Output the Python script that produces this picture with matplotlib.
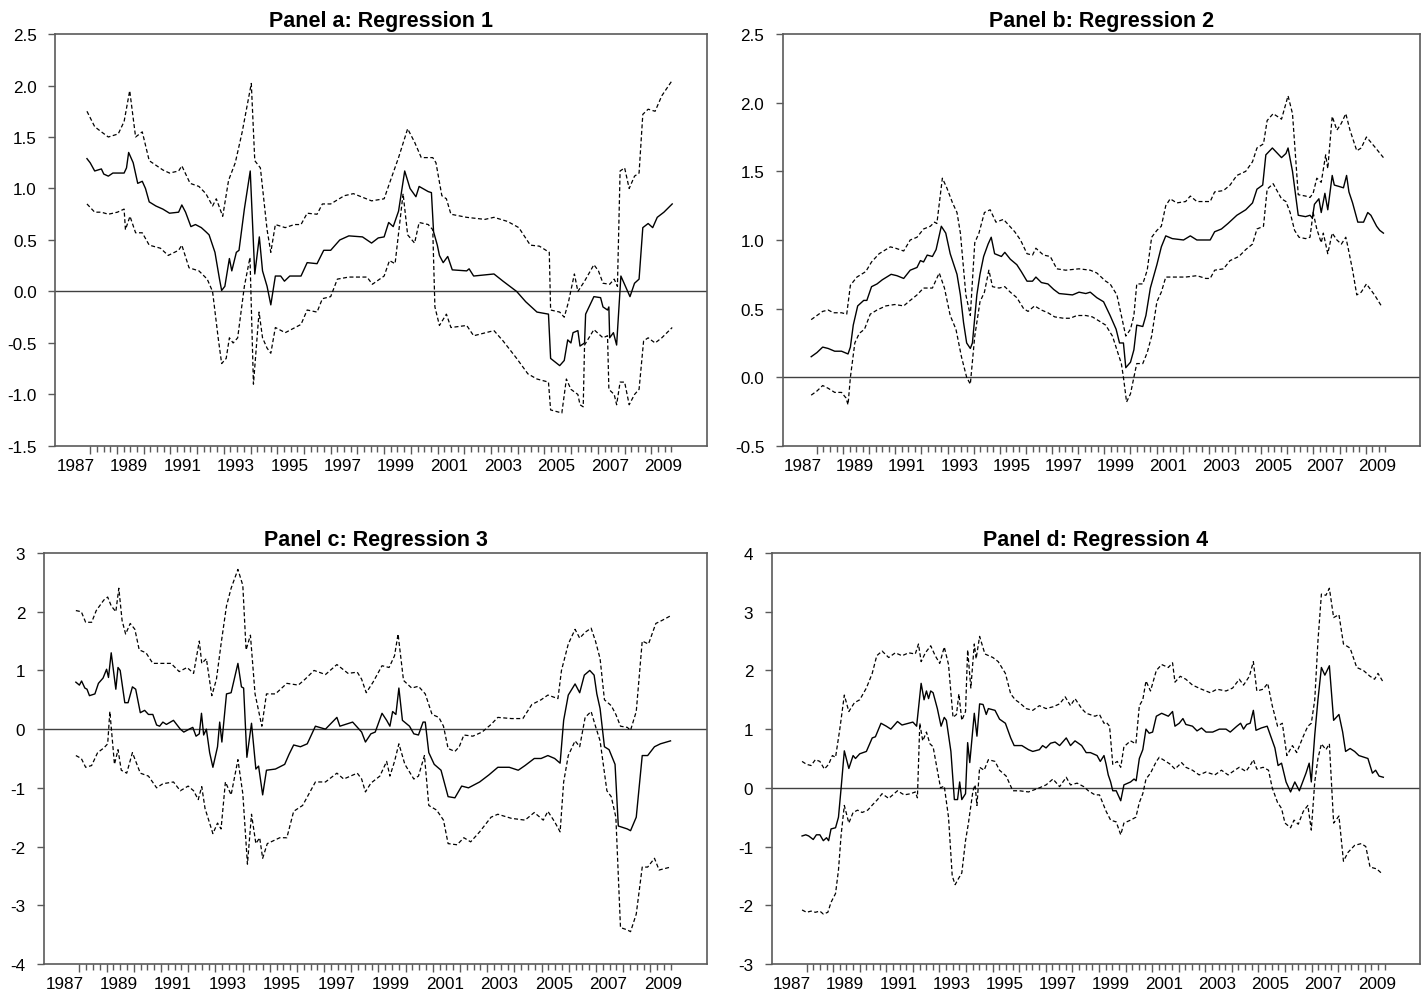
import numpy as np
import matplotlib
matplotlib.use("Agg")
import matplotlib.pyplot as plt

plt.rcParams['font.family'] = ['Liberation Sans Narrow', 'Liberation Sans', 'DejaVu Sans']

# ---- panel a: regression 1 ----
a_mid_t = [1987.88, 1988.00, 1988.17, 1988.42, 1988.51, 1988.68, 1988.85, 1989.05, 1989.27, 1989.36,
           1989.44, 1989.61, 1989.78, 1989.95, 1990.07, 1990.21, 1990.46, 1990.72, 1990.97, 1991.31,
           1991.43, 1991.57, 1991.77, 1991.94, 1992.16, 1992.33, 1992.45, 1992.67, 1992.84, 1992.92,
           1993.04, 1993.21, 1993.30, 1993.47, 1993.57, 1993.77, 1993.99, 1994.16, 1994.33, 1994.45,
           1994.62, 1994.76, 1994.93, 1995.13, 1995.27, 1995.47, 1995.89, 1996.12, 1996.49, 1996.74,
           1997.00, 1997.34, 1997.68, 1998.19, 1998.53, 1998.78, 1999.00, 1999.17, 1999.34, 1999.54,
           1999.77, 1999.97, 2000.19, 2000.31, 2000.65, 2000.77, 2000.85, 2000.99, 2001.07, 2001.21,
           2001.38, 2001.55, 2002.09, 2002.18, 2002.35, 2003.11, 2003.45, 2003.96, 2004.30, 2004.72,
           2005.15, 2005.23, 2005.57, 2005.74, 2005.87, 2005.99, 2006.07, 2006.25, 2006.33, 2006.50,
           2006.54, 2006.85, 2007.10, 2007.19, 2007.36, 2007.41, 2007.44, 2007.58, 2007.70, 2007.86,
           2008.03, 2008.20, 2008.37, 2008.54, 2008.68, 2008.88, 2009.05, 2009.22, 2009.47, 2009.78]
a_mid_v = [1.29, 1.25, 1.17, 1.19, 1.14, 1.12, 1.15, 1.15, 1.15, 1.20,
           1.35, 1.25, 1.05, 1.07, 1.00, 0.87, 0.83, 0.80, 0.76, 0.77,
           0.84, 0.77, 0.63, 0.65, 0.62, 0.58, 0.55, 0.38, 0.12, 0.01,
           0.05, 0.32, 0.20, 0.38, 0.40, 0.80, 1.17, 0.17, 0.53, 0.20,
           0.05, -0.13, 0.15, 0.15, 0.10, 0.15, 0.15, 0.28, 0.27, 0.40,
           0.40, 0.50, 0.54, 0.53, 0.47, 0.52, 0.53, 0.67, 0.63, 0.78,
           1.17, 1.00, 0.92, 1.02, 0.97, 0.96, 0.58, 0.45, 0.35, 0.28,
           0.34, 0.21, 0.20, 0.22, 0.15, 0.17, 0.10, 0.00, -0.10, -0.20,
           -0.22, -0.65, -0.72, -0.67, -0.47, -0.50, -0.40, -0.38, -0.53, -0.50,
           -0.22, -0.05, -0.06, -0.15, -0.18, -0.15, -0.45, -0.40, -0.52, 0.15,
           0.05, -0.05, 0.08, 0.12, 0.62, 0.66, 0.62, 0.72, 0.77, 0.85]
a_up_t = [1987.88, 1988.17, 1988.42, 1988.68, 1989.05, 1989.27, 1989.48, 1989.70, 1989.95, 1990.21,
          1990.72, 1990.97, 1991.31, 1991.43, 1991.74, 1992.07, 1992.33, 1992.58, 1992.72, 1992.96,
          1993.18, 1993.43, 1993.69, 1994.03, 1994.16, 1994.37, 1994.62, 1994.76, 1994.93, 1995.30,
          1995.64, 1995.89, 1996.12, 1996.49, 1996.69, 1997.00, 1997.51, 1997.85, 1998.53, 1999.00,
          1999.20, 1999.54, 1999.88, 2000.14, 2000.39, 2000.82, 2000.94, 2001.16, 2001.33, 2001.50,
          2002.09, 2002.77, 2003.11, 2003.62, 2004.04, 2004.47, 2004.81, 2005.18, 2005.23, 2005.57,
          2005.74, 2005.90, 2006.12, 2006.25, 2006.50, 2006.85, 2007.02, 2007.19, 2007.44, 2007.61,
          2007.73, 2007.83, 2008.00, 2008.17, 2008.37, 2008.54, 2008.68, 2008.88, 2009.14, 2009.39,
          2009.78]
a_up_v = [1.75, 1.60, 1.55, 1.50, 1.53, 1.65, 1.95, 1.50, 1.55, 1.27,
          1.18, 1.15, 1.17, 1.22, 1.05, 1.02, 0.95, 0.83, 0.90, 0.73,
          1.08, 1.25, 1.55, 2.02, 1.27, 1.20, 0.60, 0.38, 0.65, 0.62,
          0.65, 0.65, 0.76, 0.75, 0.85, 0.85, 0.93, 0.95, 0.88, 0.90,
          1.05, 1.30, 1.58, 1.45, 1.30, 1.30, 1.25, 0.93, 0.90, 0.75,
          0.72, 0.70, 0.72, 0.68, 0.62, 0.45, 0.44, 0.38, -0.18, -0.20,
          -0.25, -0.10, 0.17, 0.00, 0.10, 0.26, 0.20, 0.08, 0.07, 0.12,
          0.05, 1.17, 1.20, 1.00, 1.12, 1.15, 1.72, 1.77, 1.75, 1.90,
          2.05]
a_lo_t = [1987.88, 1988.17, 1988.42, 1988.68, 1989.02, 1989.27, 1989.32, 1989.49, 1989.70, 1989.95,
          1990.21, 1990.63, 1990.92, 1991.31, 1991.43, 1991.70, 1992.07, 1992.38, 1992.58, 1992.79,
          1992.92, 1993.09, 1993.21, 1993.35, 1993.52, 1993.77, 1993.98, 1994.11, 1994.32, 1994.45,
          1994.62, 1994.76, 1994.93, 1995.30, 1995.89, 1996.12, 1996.49, 1996.69, 1997.00, 1997.25,
          1997.68, 1998.36, 1998.56, 1999.00, 1999.20, 1999.41, 1999.71, 1999.88, 2000.14, 2000.31,
          2000.65, 2000.82, 2000.90, 2001.07, 2001.33, 2001.50, 2002.09, 2002.35, 2003.11, 2003.45,
          2003.96, 2004.38, 2004.72, 2005.15, 2005.23, 2005.65, 2005.82, 2005.99, 2006.25, 2006.33,
          2006.45, 2006.50, 2006.85, 2007.19, 2007.36, 2007.41, 2007.61, 2007.70, 2007.83, 2008.00,
          2008.17, 2008.37, 2008.54, 2008.71, 2008.88, 2009.14, 2009.39, 2009.78]
a_lo_v = [0.85, 0.77, 0.77, 0.75, 0.77, 0.80, 0.60, 0.73, 0.57, 0.57,
          0.45, 0.42, 0.35, 0.40, 0.45, 0.23, 0.20, 0.12, 0.00, -0.45,
          -0.70, -0.65, -0.45, -0.50, -0.45, 0.05, 0.33, -0.90, -0.20, -0.45,
          -0.55, -0.60, -0.35, -0.40, -0.32, -0.18, -0.20, -0.07, -0.05, 0.12,
          0.14, 0.14, 0.07, 0.15, 0.30, 0.27, 0.95, 0.55, 0.47, 0.67,
          0.65, 0.60, -0.15, -0.33, -0.22, -0.35, -0.33, -0.43, -0.38, -0.48,
          -0.65, -0.80, -0.85, -0.88, -1.15, -1.18, -0.85, -0.95, -1.00, -1.10,
          -1.12, -0.52, -0.37, -0.45, -0.43, -0.95, -1.00, -1.10, -0.88, -0.88,
          -1.10, -1.00, -0.95, -0.48, -0.45, -0.50, -0.45, -0.35]

# ---- panel b: regression 2 ----
b_mid_t = [1987.78, 1988.00, 1988.22, 1988.43, 1988.68, 1988.94, 1989.19, 1989.28, 1989.39, 1989.56,
           1989.79, 1989.91, 1990.09, 1990.30, 1990.50, 1990.84, 1991.06, 1991.32, 1991.57, 1991.83,
           1991.96, 1992.08, 1992.22, 1992.42, 1992.56, 1992.76, 1992.93, 1993.10, 1993.36, 1993.49,
           1993.61, 1993.73, 1993.87, 1993.95, 1994.12, 1994.24, 1994.38, 1994.55, 1994.67, 1994.80,
           1995.06, 1995.19, 1995.40, 1995.65, 1995.82, 1996.04, 1996.25, 1996.38, 1996.59, 1996.84,
           1997.06, 1997.27, 1997.78, 1998.03, 1998.29, 1998.46, 1998.71, 1998.97, 1999.22, 1999.45,
           1999.58, 1999.73, 1999.82, 2000.00, 2000.13, 2000.24, 2000.47, 2000.59, 2000.76, 2001.01,
           2001.18, 2001.35, 2001.60, 2002.03, 2002.29, 2002.54, 2003.05, 2003.22, 2003.48, 2003.73,
           2004.07, 2004.41, 2004.67, 2004.84, 2005.06, 2005.18, 2005.43, 2005.78, 2005.95, 2006.03,
           2006.20, 2006.42, 2006.70, 2006.87, 2006.96, 2007.04, 2007.21, 2007.30, 2007.44, 2007.55,
           2007.72, 2007.80, 2007.98, 2008.15, 2008.27, 2008.36, 2008.50, 2008.70, 2008.92, 2009.08,
           2009.20, 2009.42, 2009.54, 2009.68]
b_mid_v = [0.15, 0.18, 0.22, 0.21, 0.19, 0.19, 0.17, 0.22, 0.38, 0.52,
           0.56, 0.56, 0.66, 0.68, 0.71, 0.75, 0.74, 0.72, 0.78, 0.80,
           0.85, 0.84, 0.89, 0.88, 0.93, 1.10, 1.05, 0.90, 0.75, 0.60,
           0.40, 0.25, 0.21, 0.25, 0.60, 0.75, 0.88, 0.97, 1.02, 0.90,
           0.88, 0.91, 0.86, 0.82, 0.77, 0.70, 0.70, 0.73, 0.69, 0.68,
           0.64, 0.61, 0.60, 0.62, 0.61, 0.62, 0.58, 0.55, 0.45, 0.35,
           0.25, 0.25, 0.07, 0.11, 0.20, 0.38, 0.37, 0.45, 0.65, 0.82,
           0.95, 1.03, 1.01, 1.00, 1.03, 1.00, 1.00, 1.06, 1.08, 1.12,
           1.18, 1.22, 1.27, 1.37, 1.40, 1.62, 1.67, 1.60, 1.63, 1.67,
           1.50, 1.18, 1.17, 1.18, 1.16, 1.26, 1.30, 1.20, 1.34, 1.22,
           1.47, 1.40, 1.39, 1.38, 1.47, 1.35, 1.27, 1.13, 1.13, 1.20,
           1.18, 1.10, 1.07, 1.05]
b_up_t = [1987.78, 1988.00, 1988.22, 1988.43, 1988.63, 1988.94, 1989.14, 1989.28, 1989.53, 1989.87,
          1990.09, 1990.38, 1990.81, 1991.01, 1991.32, 1991.57, 1991.83, 1992.08, 1992.34, 1992.50,
          1992.59, 1992.80, 1992.97, 1993.19, 1993.36, 1993.49, 1993.70, 1993.87, 1994.04, 1994.20,
          1994.41, 1994.63, 1994.85, 1995.14, 1995.57, 1995.79, 1996.04, 1996.25, 1996.38, 1996.67,
          1996.93, 1997.18, 1997.52, 1998.03, 1998.46, 1998.71, 1999.05, 1999.22, 1999.48, 1999.65,
          1999.82, 2000.00, 2000.13, 2000.24, 2000.47, 2000.64, 2000.81, 2001.01, 2001.18, 2001.35,
          2001.52, 2001.77, 2002.11, 2002.29, 2002.54, 2003.05, 2003.22, 2003.56, 2003.81, 2004.07,
          2004.41, 2004.67, 2004.84, 2005.09, 2005.23, 2005.46, 2005.78, 2006.03, 2006.20, 2006.42,
          2006.70, 2006.87, 2006.99, 2007.13, 2007.30, 2007.47, 2007.55, 2007.72, 2007.90, 2008.07,
          2008.24, 2008.40, 2008.66, 2008.83, 2009.03, 2009.34, 2009.68]
b_up_v = [0.42, 0.45, 0.48, 0.49, 0.47, 0.47, 0.46, 0.67, 0.73, 0.77,
          0.84, 0.90, 0.95, 0.94, 0.92, 1.00, 1.02, 1.08, 1.10, 1.13,
          1.12, 1.45, 1.38, 1.27, 1.20, 1.05, 0.60, 0.45, 0.98, 1.05,
          1.20, 1.22, 1.13, 1.15, 1.06, 1.00, 0.90, 0.89, 0.94, 0.89,
          0.88, 0.79, 0.78, 0.79, 0.78, 0.76, 0.70, 0.68, 0.60, 0.45,
          0.30, 0.35, 0.45, 0.68, 0.68, 0.78, 1.02, 1.07, 1.10, 1.25,
          1.30, 1.27, 1.28, 1.32, 1.28, 1.28, 1.35, 1.36, 1.40, 1.47,
          1.50, 1.57, 1.67, 1.70, 1.87, 1.92, 1.88, 2.05, 1.92, 1.33,
          1.32, 1.31, 1.34, 1.45, 1.42, 1.62, 1.52, 1.90, 1.80, 1.85,
          1.92, 1.80, 1.65, 1.67, 1.75, 1.68, 1.60]
b_lo_t = [1987.78, 1988.00, 1988.22, 1988.43, 1988.68, 1988.94, 1989.11, 1989.19, 1989.28, 1989.45,
          1989.62, 1989.82, 1990.04, 1990.30, 1990.64, 1990.98, 1991.32, 1991.57, 1991.83, 1992.08,
          1992.42, 1992.68, 1992.88, 1993.10, 1993.32, 1993.53, 1993.73, 1993.87, 1994.04, 1994.24,
          1994.41, 1994.58, 1994.72, 1994.97, 1995.19, 1995.40, 1995.65, 1995.91, 1996.08, 1996.33,
          1996.59, 1996.84, 1997.10, 1997.44, 1997.69, 1997.95, 1998.29, 1998.54, 1998.80, 1999.05,
          1999.31, 1999.48, 1999.65, 1999.73, 1999.85, 2000.00, 2000.13, 2000.24, 2000.47, 2000.64,
          2000.81, 2001.01, 2001.18, 2001.35, 2001.69, 2002.11, 2002.54, 2002.88, 2003.05, 2003.22,
          2003.56, 2003.81, 2004.15, 2004.41, 2004.67, 2004.84, 2005.09, 2005.23, 2005.46, 2005.78,
          2005.95, 2006.11, 2006.28, 2006.45, 2006.70, 2006.87, 2006.99, 2007.13, 2007.30, 2007.38,
          2007.55, 2007.72, 2007.90, 2008.07, 2008.24, 2008.32, 2008.50, 2008.66, 2008.83, 2009.03,
          2009.34, 2009.60]
b_lo_v = [-0.13, -0.10, -0.06, -0.08, -0.11, -0.11, -0.15, -0.20, 0.00, 0.25,
          0.32, 0.35, 0.46, 0.49, 0.52, 0.53, 0.52, 0.56, 0.60, 0.65,
          0.65, 0.76, 0.65, 0.45, 0.35, 0.15, 0.00, -0.05, 0.30, 0.55,
          0.62, 0.78, 0.66, 0.65, 0.66, 0.62, 0.58, 0.50, 0.48, 0.52,
          0.49, 0.47, 0.44, 0.43, 0.43, 0.45, 0.45, 0.44, 0.41, 0.38,
          0.30, 0.20, 0.10, 0.00, -0.18, -0.12, 0.00, 0.10, 0.10, 0.18,
          0.30, 0.55, 0.62, 0.73, 0.73, 0.73, 0.74, 0.72, 0.72, 0.78,
          0.79, 0.85, 0.88, 0.93, 0.97, 1.08, 1.10, 1.37, 1.41, 1.30,
          1.28, 1.20, 1.07, 1.02, 1.01, 1.02, 1.20, 1.08, 0.98, 1.05,
          0.90, 1.05, 1.00, 0.97, 1.02, 0.95, 0.78, 0.60, 0.62, 0.68,
          0.60, 0.52]

# ---- panel c: regression 3 ----
c_mid_t = [1987.87, 1988.00, 1988.08, 1988.20, 1988.28, 1988.37, 1988.57, 1988.70, 1988.87, 1989.00,
           1989.07, 1989.17, 1989.34, 1989.42, 1989.50, 1989.67, 1989.79, 1989.95, 1990.07, 1990.24,
           1990.40, 1990.54, 1990.70, 1990.84, 1990.95, 1991.07, 1991.20, 1991.46, 1991.71, 1991.84,
           1992.04, 1992.17, 1992.29, 1992.41, 1992.49, 1992.57, 1992.67, 1992.79, 1992.91, 1993.08,
           1993.16, 1993.24, 1993.41, 1993.58, 1993.83, 1993.96, 1994.04, 1994.16, 1994.33, 1994.49,
           1994.59, 1994.74, 1994.88, 1995.21, 1995.55, 1995.71, 1995.88, 1996.13, 1996.38, 1996.68,
           1997.05, 1997.47, 1997.58, 1998.05, 1998.38, 1998.52, 1998.72, 1998.88, 1999.13, 1999.30,
           1999.42, 1999.52, 1999.64, 1999.75, 1999.88, 2000.14, 2000.30, 2000.47, 2000.64, 2000.72,
           2000.85, 2001.05, 2001.30, 2001.56, 2001.81, 2002.06, 2002.31, 2002.72, 2003.06, 2003.39,
           2003.81, 2004.14, 2004.39, 2004.73, 2004.98, 2005.23, 2005.48, 2005.68, 2005.81, 2005.98,
           2006.23, 2006.40, 2006.57, 2006.77, 2006.93, 2007.03, 2007.15, 2007.31, 2007.48, 2007.70,
           2007.82, 2008.15, 2008.27, 2008.48, 2008.70, 2008.90, 2009.15, 2009.37, 2009.74]
c_mid_v = [0.80, 0.75, 0.82, 0.70, 0.68, 0.57, 0.60, 0.78, 0.87, 1.02,
           0.88, 1.30, 0.68, 1.05, 1.00, 0.45, 0.45, 0.72, 0.68, 0.28,
           0.32, 0.25, 0.25, 0.07, 0.05, 0.12, 0.08, 0.15, 0.00, -0.05,
           0.00, 0.03, -0.12, -0.08, 0.27, -0.10, 0.00, -0.40, -0.65, -0.30,
           0.12, -0.22, 0.60, 0.62, 1.12, 0.72, 0.70, -0.48, 0.10, -0.68,
           -0.63, -1.12, -0.70, -0.68, -0.60, -0.43, -0.27, -0.30, -0.25, 0.05,
           0.00, 0.20, 0.05, 0.12, -0.05, -0.22, -0.08, -0.05, 0.27, 0.15,
           0.05, 0.30, 0.25, 0.70, 0.15, 0.05, -0.08, -0.10, 0.12, 0.12,
           -0.40, -0.60, -0.70, -1.15, -1.17, -0.97, -1.00, -0.90, -0.78, -0.65,
           -0.65, -0.70, -0.62, -0.50, -0.50, -0.45, -0.50, -0.58, 0.15, 0.58,
           0.77, 0.62, 0.92, 1.00, 0.92, 0.60, 0.35, -0.30, -0.35, -0.60,
           -1.65, -1.70, -1.73, -1.50, -0.45, -0.45, -0.30, -0.25, -0.20]
c_up_t = [1987.87, 1988.07, 1988.23, 1988.45, 1988.62, 1988.90, 1989.04, 1989.17, 1989.34, 1989.45,
          1989.57, 1989.70, 1989.87, 1990.04, 1990.20, 1990.45, 1990.70, 1991.04, 1991.37, 1991.67,
          1991.96, 1992.20, 1992.41, 1992.50, 1992.67, 1992.87, 1993.04, 1993.21, 1993.41, 1993.58,
          1993.83, 1994.01, 1994.13, 1994.29, 1994.46, 1994.71, 1994.88, 1995.21, 1995.63, 1996.05,
          1996.30, 1996.63, 1997.05, 1997.47, 1997.88, 1998.22, 1998.38, 1998.55, 1998.80, 1999.13,
          1999.39, 1999.59, 1999.72, 1999.92, 2000.22, 2000.47, 2000.72, 2000.97, 2001.22, 2001.39,
          2001.56, 2001.81, 2001.97, 2002.14, 2002.47, 2002.81, 2003.14, 2003.39, 2003.89, 2004.31,
          2004.64, 2004.98, 2005.23, 2005.60, 2005.73, 2005.98, 2006.23, 2006.40, 2006.60, 2006.82,
          2006.98, 2007.15, 2007.31, 2007.56, 2007.73, 2007.90, 2008.15, 2008.27, 2008.48, 2008.70,
          2008.93, 2009.20, 2009.42, 2009.74]
c_up_v = [2.02, 2.00, 1.82, 1.82, 2.02, 2.20, 2.25, 2.10, 2.00, 2.40,
          1.85, 1.62, 1.80, 1.70, 1.35, 1.30, 1.12, 1.12, 1.12, 0.98,
          1.05, 0.95, 1.50, 1.12, 1.20, 0.57, 0.85, 1.45, 2.10, 2.40,
          2.72, 2.45, 1.35, 1.60, 0.60, 0.05, 0.60, 0.60, 0.78, 0.75,
          0.85, 1.00, 0.93, 1.10, 0.95, 0.97, 0.85, 0.62, 0.80, 1.08,
          1.05, 1.25, 1.62, 0.83, 0.70, 0.73, 0.60, 0.25, 0.20, 0.05,
          -0.33, -0.38, -0.30, -0.10, -0.12, -0.05, 0.08, 0.20, 0.18, 0.18,
          0.42, 0.50, 0.58, 0.52, 1.00, 1.45, 1.70, 1.55, 1.65, 1.72,
          1.50, 1.20, 0.50, 0.40, 0.25, 0.05, 0.03, -0.02, 0.30, 1.50,
          1.45, 1.80, 1.85, 1.93]
c_lo_t = [1987.87, 1988.07, 1988.23, 1988.45, 1988.67, 1988.90, 1989.04, 1989.12, 1989.29, 1989.42,
          1989.54, 1989.74, 1989.95, 1990.24, 1990.54, 1990.84, 1991.07, 1991.46, 1991.71, 1992.00,
          1992.20, 1992.37, 1992.50, 1992.62, 1992.91, 1993.08, 1993.21, 1993.37, 1993.58, 1993.83,
          1994.01, 1994.18, 1994.33, 1994.49, 1994.63, 1994.74, 1994.91, 1995.37, 1995.63, 1995.88,
          1996.21, 1996.68, 1997.05, 1997.47, 1997.72, 1998.22, 1998.38, 1998.52, 1998.72, 1999.05,
          1999.30, 1999.42, 1999.59, 1999.75, 1999.97, 2000.30, 2000.47, 2000.69, 2000.85, 2001.14,
          2001.39, 2001.56, 2001.89, 2002.14, 2002.39, 2002.72, 2003.14, 2003.39, 2003.89, 2004.39,
          2004.73, 2005.06, 2005.23, 2005.48, 2005.68, 2005.81, 2005.98, 2006.23, 2006.40, 2006.60,
          2006.82, 2006.98, 2007.15, 2007.40, 2007.56, 2007.73, 2007.90, 2008.15, 2008.27, 2008.48,
          2008.70, 2008.90, 2009.15, 2009.32, 2009.74]
c_lo_v = [-0.45, -0.50, -0.65, -0.62, -0.40, -0.32, -0.25, 0.30, -0.60, -0.35,
          -0.70, -0.75, -0.40, -0.75, -0.80, -1.00, -0.93, -0.90, -1.05, -0.97,
          -1.05, -1.20, -0.98, -1.35, -1.78, -1.60, -1.70, -0.90, -1.12, -0.52,
          -1.10, -2.30, -1.45, -1.95, -1.85, -2.20, -1.95, -1.85, -1.85, -1.40,
          -1.30, -0.90, -0.90, -0.75, -0.85, -0.75, -0.85, -1.07, -0.92, -0.80,
          -0.55, -0.80, -0.55, -0.25, -0.60, -0.85, -0.80, -0.45, -1.30, -1.38,
          -1.55, -1.95, -1.97, -1.85, -1.92, -1.75, -1.50, -1.45, -1.52, -1.55,
          -1.42, -1.55, -1.40, -1.58, -1.75, -0.90, -0.45, -0.20, -0.30, 0.20,
          0.30, 0.05, -0.20, -1.05, -1.15, -1.50, -3.38, -3.42, -3.45, -3.15,
          -2.35, -2.35, -2.20, -2.40, -2.35]

# ---- panel d: regression 4 ----
d_mid_t = [1987.83, 1987.97, 1988.08, 1988.25, 1988.37, 1988.50, 1988.63, 1988.75, 1988.83, 1988.92,
           1989.09, 1989.20, 1989.30, 1989.42, 1989.59, 1989.75, 1989.84, 1990.00, 1990.25, 1990.47,
           1990.59, 1990.80, 1991.00, 1991.17, 1991.42, 1991.59, 1991.84, 1992.00, 1992.14, 1992.21,
           1992.31, 1992.42, 1992.51, 1992.59, 1992.67, 1992.76, 1992.92, 1993.06, 1993.18, 1993.26,
           1993.43, 1993.56, 1993.68, 1993.76, 1993.84, 1993.98, 1994.06, 1994.14, 1994.31, 1994.41,
           1994.51, 1994.64, 1994.76, 1994.84, 1995.09, 1995.26, 1995.48, 1995.68, 1995.81, 1996.10,
           1996.35, 1996.51, 1996.76, 1996.88, 1997.01, 1997.18, 1997.35, 1997.52, 1997.77, 1997.93,
           1998.10, 1998.35, 1998.52, 1998.68, 1998.93, 1999.05, 1999.19, 1999.27, 1999.35, 1999.44,
           1999.52, 1999.65, 1999.82, 1999.94, 2000.19, 2000.32, 2000.40, 2000.52, 2000.65, 2000.77,
           2000.89, 2001.02, 2001.16, 2001.36, 2001.61, 2001.77, 2001.86, 2002.02, 2002.16, 2002.27,
           2002.52, 2002.69, 2002.86, 2003.03, 2003.28, 2003.53, 2003.78, 2003.94, 2004.19, 2004.33,
           2004.44, 2004.56, 2004.69, 2004.81, 2004.91, 2005.11, 2005.33, 2005.50, 2005.62, 2005.74,
           2005.87, 2006.04, 2006.21, 2006.37, 2006.54, 2006.79, 2006.91, 2006.99, 2007.12, 2007.24,
           2007.37, 2007.50, 2007.67, 2007.83, 2008.03, 2008.17, 2008.28, 2008.45, 2008.62, 2008.78,
           2009.12, 2009.29, 2009.41, 2009.54, 2009.70]
d_mid_v = [-0.82, -0.80, -0.82, -0.88, -0.80, -0.80, -0.90, -0.85, -0.90, -0.70,
           -0.68, -0.50, 0.00, 0.63, 0.33, 0.55, 0.50, 0.58, 0.62, 0.85,
           0.87, 1.10, 1.05, 1.00, 1.13, 1.07, 1.10, 1.12, 1.05, 1.35,
           1.78, 1.50, 1.65, 1.52, 1.65, 1.62, 1.35, 1.05, 1.20, 1.15,
           0.62, -0.20, -0.20, 0.10, -0.20, -0.10, 0.77, 0.43, 1.27, 0.88,
           1.43, 1.42, 1.25, 1.35, 1.32, 1.17, 1.10, 0.85, 0.72, 0.72,
           0.65, 0.62, 0.65, 0.72, 0.68, 0.76, 0.78, 0.72, 0.85, 0.72,
           0.80, 0.72, 0.60, 0.60, 0.55, 0.45, 0.55, 0.40, 0.22, 0.10,
           -0.05, -0.05, -0.22, 0.05, 0.10, 0.15, 0.12, 0.50, 0.65, 1.00,
           0.93, 0.95, 1.22, 1.27, 1.22, 1.30, 1.05, 1.10, 1.18, 1.08,
           1.05, 0.97, 1.02, 0.95, 0.95, 1.00, 1.00, 0.95, 1.05, 1.10,
           1.00, 1.08, 1.10, 1.32, 0.98, 1.02, 1.05, 0.83, 0.68, 0.38,
           0.42, 0.10, -0.07, 0.10, -0.05, 0.25, 0.42, 0.10, 0.90, 1.50,
           2.05, 1.92, 2.08, 1.15, 1.25, 0.95, 0.62, 0.67, 0.62, 0.55,
           0.50, 0.25, 0.30, 0.20, 0.18]
d_up_t = [1987.83, 1988.00, 1988.17, 1988.33, 1988.50, 1988.67, 1988.83, 1988.97, 1989.09, 1989.25,
          1989.42, 1989.59, 1989.80, 1990.00, 1990.25, 1990.47, 1990.64, 1990.84, 1991.09, 1991.34,
          1991.59, 1991.84, 1992.09, 1992.21, 1992.31, 1992.47, 1992.67, 1992.84, 1993.01, 1993.18,
          1993.34, 1993.51, 1993.64, 1993.73, 1993.84, 1993.98, 1994.06, 1994.18, 1994.31, 1994.38,
          1994.51, 1994.71, 1995.01, 1995.21, 1995.48, 1995.68, 1995.85, 1996.01, 1996.26, 1996.51,
          1996.76, 1997.01, 1997.27, 1997.52, 1997.73, 1997.93, 1998.10, 1998.35, 1998.52, 1998.85,
          1999.02, 1999.19, 1999.27, 1999.40, 1999.52, 1999.69, 1999.82, 1999.94, 2000.19, 2000.39,
          2000.52, 2000.65, 2000.77, 2000.94, 2001.16, 2001.36, 2001.61, 2001.77, 2001.86, 2002.06,
          2002.27, 2002.52, 2002.86, 2003.19, 2003.44, 2003.78, 2004.03, 2004.28, 2004.44, 2004.66,
          2004.81, 2004.94, 2005.18, 2005.35, 2005.52, 2005.72, 2005.90, 2006.07, 2006.28, 2006.44,
          2006.69, 2006.86, 2006.99, 2007.12, 2007.24, 2007.37, 2007.54, 2007.67, 2007.83, 2008.03,
          2008.20, 2008.45, 2008.70, 2008.95, 2009.20, 2009.37, 2009.50, 2009.67]
d_up_v = [0.45, 0.40, 0.38, 0.48, 0.45, 0.32, 0.40, 0.55, 0.52, 1.00,
          1.58, 1.30, 1.45, 1.50, 1.70, 1.95, 2.25, 2.33, 2.22, 2.30,
          2.25, 2.30, 2.28, 2.45, 2.15, 2.30, 2.42, 2.25, 2.12, 2.40,
          2.10, 1.20, 1.25, 1.60, 1.15, 1.30, 2.35, 1.70, 2.45, 2.20,
          2.58, 2.28, 2.22, 2.15, 1.95, 1.60, 1.50, 1.45, 1.35, 1.32,
          1.40, 1.35, 1.38, 1.43, 1.55, 1.40, 1.52, 1.35, 1.27, 1.22,
          1.25, 1.10, 1.12, 1.05, 0.40, 0.45, 0.35, 0.70, 0.80, 0.75,
          1.40, 1.50, 1.82, 1.65, 2.00, 2.10, 2.05, 2.13, 1.80, 1.90,
          1.85, 1.75, 1.68, 1.62, 1.68, 1.65, 1.70, 1.85, 1.75, 1.90,
          2.15, 1.65, 1.68, 1.78, 1.40, 1.05, 1.10, 0.55, 0.72, 0.60,
          0.88, 1.05, 1.10, 1.50, 2.50, 3.30, 3.28, 3.40, 2.90, 2.95,
          2.45, 2.38, 2.05, 2.00, 1.90, 1.85, 1.95, 1.82]
d_lo_t = [1987.83, 1988.00, 1988.17, 1988.33, 1988.50, 1988.63, 1988.80, 1988.92, 1989.09, 1989.20,
          1989.30, 1989.42, 1989.59, 1989.75, 1989.92, 1990.09, 1990.30, 1990.50, 1990.67, 1990.84,
          1991.09, 1991.42, 1991.67, 1991.92, 1992.09, 1992.17, 1992.26, 1992.37, 1992.51, 1992.64,
          1992.76, 1992.92, 1993.04, 1993.18, 1993.34, 1993.48, 1993.59, 1993.71, 1993.84, 1993.98,
          1994.09, 1994.26, 1994.34, 1994.41, 1994.51, 1994.68, 1994.84, 1995.09, 1995.26, 1995.51,
          1995.76, 1996.01, 1996.35, 1996.76, 1997.01, 1997.27, 1997.52, 1997.77, 1997.93, 1998.18,
          1998.43, 1998.60, 1998.85, 1999.02, 1999.27, 1999.44, 1999.65, 1999.82, 1999.94, 2000.19,
          2000.39, 2000.52, 2000.65, 2000.77, 2000.94, 2001.16, 2001.27, 2001.52, 2001.69, 2001.86,
          2002.11, 2002.27, 2002.52, 2002.77, 2003.03, 2003.36, 2003.61, 2003.86, 2004.11, 2004.28,
          2004.53, 2004.69, 2004.81, 2004.94, 2005.18, 2005.38, 2005.52, 2005.72, 2005.87, 2006.00,
          2006.21, 2006.34, 2006.50, 2006.69, 2006.86, 2006.99, 2007.12, 2007.24, 2007.37, 2007.54,
          2007.67, 2007.83, 2008.03, 2008.20, 2008.37, 2008.62, 2008.87, 2009.04, 2009.20, 2009.45,
          2009.62]
d_lo_v = [-2.08, -2.12, -2.10, -2.12, -2.10, -2.15, -2.12, -1.95, -1.80, -1.40,
          -0.80, -0.30, -0.60, -0.42, -0.38, -0.42, -0.38, -0.28, -0.20, -0.10,
          -0.18, -0.05, -0.12, -0.10, -0.07, -0.17, 1.10, 0.80, 0.95, 0.75,
          0.70, 0.30, 0.00, 0.03, -0.50, -1.50, -1.65, -1.55, -1.45, -0.90,
          -0.60, -0.05, 0.05, -0.30, 0.35, 0.30, 0.48, 0.45, 0.30, 0.20,
          -0.05, -0.05, -0.07, 0.00, 0.05, 0.15, 0.02, 0.18, 0.05, 0.08,
          0.02, -0.05, -0.12, -0.12, -0.40, -0.55, -0.58, -0.80, -0.60, -0.55,
          -0.50, -0.25, -0.10, 0.15, 0.25, 0.45, 0.52, 0.45, 0.40, 0.32,
          0.43, 0.35, 0.30, 0.22, 0.27, 0.22, 0.30, 0.22, 0.30, 0.35,
          0.28, 0.38, 0.48, 0.32, 0.35, 0.30, 0.00, -0.25, -0.35, -0.60,
          -0.68, -0.55, -0.62, -0.40, -0.30, -0.72, 0.10, 0.50, 0.75, 0.65,
          0.75, -0.60, -0.48, -1.25, -1.10, -0.98, -0.95, -1.00, -1.35, -1.38,
          -1.45]

titles = ["Panel a: Regression 1", "Panel b: Regression 2",
          "Panel c: Regression 3", "Panel d: Regression 4"]
label_years = [1987, 1989, 1991, 1993, 1995, 1997, 1999, 2001, 2003, 2005, 2007, 2009]
major_years = list(range(1988, 2010))

panels = [
    (a_mid_t, a_mid_v, a_up_t, a_up_v, a_lo_t, a_lo_v),
    (b_mid_t, b_mid_v, b_up_t, b_up_v, b_lo_t, b_lo_v),
    (c_mid_t, c_mid_v, c_up_t, c_up_v, c_lo_t, c_lo_v),
    (d_mid_t, d_mid_v, d_up_t, d_up_v, d_lo_t, d_lo_v),
]
ylims = [(-1.5, 2.5), (-0.5, 2.5), (-4, 3), (-3, 4)]
yticks = [np.arange(-1.5, 2.51, 0.5), np.arange(-0.5, 2.51, 0.5),
          np.arange(-4, 3.1, 1), np.arange(-3, 4.1, 1)]
yfmt = ["%.1f", "%.1f", "%d", "%d"]
# axes boxes in figure fractions (left, bottom, width, height)
boxes = [(0.0390, 0.5508, 0.4585, 0.4140),
         (0.5510, 0.5508, 0.4483, 0.4140),
         (0.0310, 0.0302, 0.4665, 0.4130),
         (0.5433, 0.0302, 0.4560, 0.4130)]

fig = plt.figure(figsize=(14.21, 9.95), dpi=100)
frame = '#5a5a5a'

for i in range(4):
    ax = fig.add_axes(boxes[i])
    mt, mv, ut, uv, lt, lv = panels[i]
    ax.axhline(0, color='#404040', lw=1.0, zorder=1)
    ax.plot(ut, uv, color='black', lw=0.9, dashes=(3.2, 2.0))
    ax.plot(lt, lv, color='black', lw=0.9, dashes=(3.2, 2.0))
    ax.plot(mt, mv, color='black', lw=1.0)
    ax.set_xlim(1986.70, 2011.08)
    ax.set_ylim(*ylims[i])
    ax.set_yticks(yticks[i])
    ax.set_yticklabels([yfmt[i] % v for v in yticks[i]], fontsize=12.3)
    ax.set_xticks(major_years)
    ax.set_xticklabels([])
    quarters = [y + q for y in range(1988, 2010) for q in (0.25, 0.5, 0.75)]
    ax.set_xticks(quarters, minor=True)
    ax.tick_params(axis='x', which='major', length=6, width=1, color=frame, direction='out')
    ax.tick_params(axis='x', which='minor', length=4, width=1, color=frame, direction='out')
    ax.tick_params(axis='y', length=5, width=1, color=frame, pad=8.5, direction='out')
    for s in ax.spines.values():
        s.set_color(frame)
        s.set_linewidth(1.2)
    for yr in label_years:
        ax.annotate(str(yr), xy=(yr + 0.45, 0), xycoords=('data', 'axes fraction'),
                    xytext=(0, -8.5), textcoords='offset points',
                    ha='center', va='top', fontsize=12.3)
    ax.set_title(titles[i], fontsize=15.5, fontweight='bold', pad=6,
                 family=['Liberation Sans', 'DejaVu Sans'])

fig.savefig('out.png', dpi=100)
